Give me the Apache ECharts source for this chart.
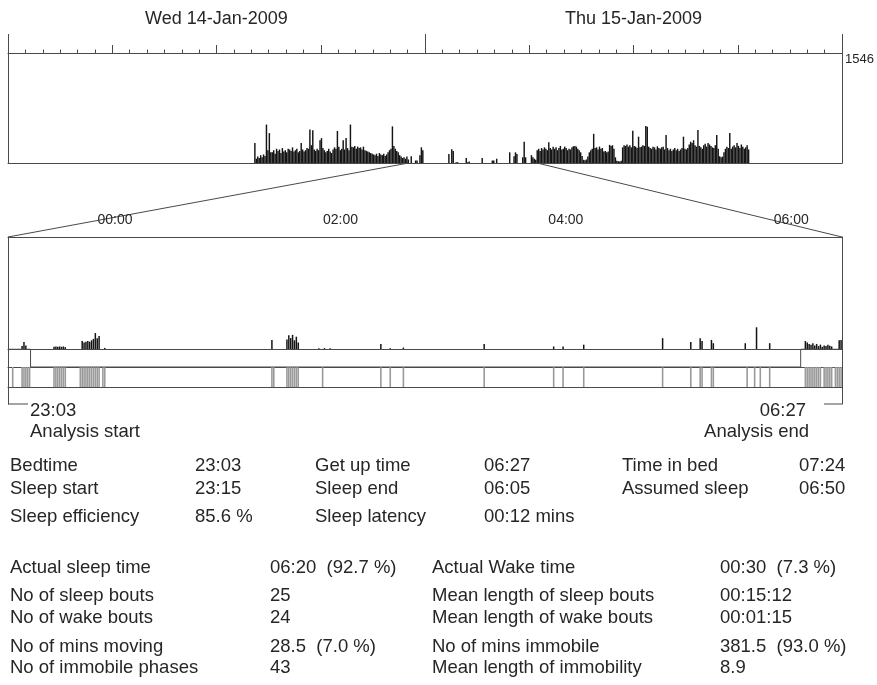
<!DOCTYPE html>
<html><head><meta charset="utf-8">
<script src="https://cdn.jsdelivr.net/npm/echarts@6/dist/echarts.min.js"></script>
<style>html,body{margin:0;padding:0;background:#fff}#c{width:877px;height:685px}</style>
</head><body><div id="c"></div>
<script>
// ---------------- DATA ----------------
const dayLabels = ['Wed 14-Jan-2009', 'Thu 15-Jan-2009'];
const yMax = 1546;
const binMin = 5;                 // overview bin length (minutes)
const wedStart = 850;             // minutes from Wed 00:00 (14:10)
const wedBins = [
  280, 60, 90, 70, 110, 80, 120, 100, 540, 180, 420, 150,
  150, 180, 130, 200, 170, 190, 140, 210, 160, 180, 150, 200,
  190, 170, 220, 160, 180, 200, 150, 170, 280, 190, 160, 180,
  210, 200, 470, 250, 460, 190, 170, 200, 180, 320, 350, 210,
  180, 150, 170, 200, 160, 140, 190, 220, 200, 450, 230, 180,
  200, 320, 190, 350, 210, 180, 540, 230, 220, 240, 200, 230,
  210, 220, 190, 230, 180, 170, 160, 150, 140, 130, 120, 110,
  130, 100, 140, 120, 110, 130, 100, 120, 150, 180, 200, 515,
  240, 200, 170, 150, 110, 90, 70, 80, 60, 90, 50
];
const thuStart = 1825;            // minutes from Wed 00:00 (Thu 06:25)
const thuBins = [
  180, 200, 170, 210, 190, 220, 200, 180, 290, 210, 190, 230,
  200, 220, 180, 210, 240, 190, 200, 230, 210, 180, 200, 190,
  220, 235, 240, 230, 200, 180, 150, 100, 45, 40, 50, 90,
  150, 180, 200, 410, 210, 220, 190, 230, 200, 210, 160, 170,
  150, 160, 255, 240, 250, 200, 80, 30, 25, 20, 30, 220,
  250, 240, 260, 230, 250, 220, 455, 240, 230, 210, 370, 220,
  230, 250, 240, 520, 510, 230, 210, 200, 230, 220, 190, 235,
  210, 200, 220, 230, 190, 395, 210, 180, 200, 170, 190, 210,
  180, 200, 170, 190, 210, 370, 200, 190, 210, 260, 300, 280,
  320, 250, 230, 465, 240, 220, 200, 250, 270, 230, 280, 260,
  240, 220, 210, 250, 395, 200, 95, 80, 90, 150, 200, 230,
  210, 420, 200, 230, 250, 220, 280, 240, 210, 260, 230, 200,
  220, 250, 190
];
const analysisStart = 1383;       // Wed 23:03
const analysisEnd = 1827;         // Thu 06:27
const sleepStart = 1395;          // 23:15
const sleepEnd = 1805;            // 06:05
const zoomTickMinutes = [1440, 1560, 1680, 1800];
const zoomTickLabels = ['00:00', '02:00', '04:00', '06:00'];
// [minutes after analysis start, activity count]
const nightActivity = [
  [7, 40], [8, 95], [9, 50],
  [24, 30], [25, 35], [26, 30], [27, 35], [28, 30], [29, 35], [30, 25],
  [39, 110], [40, 90], [41, 100], [42, 110], [43, 100], [44, 120], [45, 140], [46, 220], [47, 150], [48, 180],
  [51, 15],
  [140, 125],
  [148, 130], [149, 190], [150, 150], [151, 195], [152, 120], [153, 170], [154, 90],
  [165, 12], [168, 12], [171, 12],
  [198, 70], [203, 10], [210, 20], [253, 70], [290, 35], [295, 35], [306, 60],
  [348, 150], [363, 95], [368, 150], [369, 110], [374, 125], [375, 80], [392, 80], [398, 300], [405, 80],
  [424, 110], [425, 90], [426, 70], [427, 60], [428, 80], [429, 50], [430, 70], [431, 40], [432, 60],
  [433, 30], [434, 50], [435, 40], [436, 60], [437, 45], [438, 35],
  [442, 120], [443, 125]
];
// wake epochs: [first minute, last minute] after analysis start
const wakeEpochs = [
  [2, 2], [7, 11], [24, 30], [38, 48], [50, 51], [140, 141], [148, 154], [167, 167],
  [198, 198], [203, 203], [210, 210], [253, 253], [290, 290], [295, 295], [306, 306],
  [348, 348], [363, 363], [368, 369], [374, 375], [393, 393], [397, 397], [400, 400], [405, 405],
  [424, 432], [434, 438], [440, 443]
];
const statsTop = [
  ['Bedtime', '23:03', 'Get up time', '06:27', 'Time in bed', '07:24'],
  ['Sleep start', '23:15', 'Sleep end', '06:05', 'Assumed sleep', '06:50'],
  ['Sleep efficiency', '85.6 %', 'Sleep latency', '00:12 mins', '', '']
];
const statsBottom = [
  ['Actual sleep time', '06:20  (92.7 %)', 'Actual Wake time', '00:30  (7.3 %)'],
  ['No of sleep bouts', '25', 'Mean length of sleep bouts', '00:15:12'],
  ['No of wake bouts', '24', 'Mean length of wake bouts', '00:01:15'],
  ['No of mins moving', '28.5  (7.0 %)', 'No of mins immobile', '381.5  (93.0 %)'],
  ['No of immobile phases', '43', 'Mean length of immobility', '8.9']
];

// ---------------- BUILD ----------------
const FONT = '"Liberation Sans", Arial, sans-serif';
const LINE = '#4a4a4a';
const TXT = '#262626';
const fmtHM = m => { m = ((m % 1440) + 1440) % 1440; return String(Math.floor(m / 60)).padStart(2, '0') + ':' + String(m % 60).padStart(2, '0'); };

const overview = [];
wedBins.forEach((v, i) => overview.push([wedStart + i * binMin + binMin / 2, v]));
for (let m = wedStart + wedBins.length * binMin; m < thuStart; m += binMin) {
  let v = 0;
  nightActivity.forEach(([o, val]) => { const a = analysisStart + o; if (a >= m && a < m + binMin) v = Math.max(v, val); });
  if (v > 0) overview.push([m + binMin / 2, v]);
}
thuBins.forEach((v, j) => overview.push([thuStart + j * binMin + binMin / 2, v]));

const nightData = nightActivity.map(([o, v]) => [analysisStart + o + 0.5, v]);
const wakeData = [];
wakeEpochs.forEach(([s, e]) => { for (let m = s; m <= e; m++) wakeData.push([analysisStart + m + 0.5, 1]); });
const sleepPeriod = [[analysisStart, 1], [sleepStart, 1], [sleepStart, 0], [sleepEnd, 0], [sleepEnd, 1], [analysisEnd, 1]];

const G = { left: 8, width: 834 };
const hidden = { show: false };
const noLine = { show: false, onZero: false };
const lineOnly = { show: true, onZero: false, lineStyle: { color: LINE, width: 1 } };
const baseX = (grid, extra) => Object.assign({
  gridIndex: grid, type: 'value', axisLine: lineOnly, axisTick: hidden, axisLabel: hidden, splitLine: hidden
}, extra);
const baseY = (grid, extra) => Object.assign({
  gridIndex: grid, type: 'value', axisLine: noLine, axisTick: hidden, axisLabel: hidden, splitLine: hidden
}, extra);

const chart = echarts.init(document.getElementById('c'), null, { renderer: 'canvas' });
chart.setOption({
  animation: false,
  backgroundColor: '#fff',
  textStyle: { fontFamily: FONT },
  grid: [
    { left: G.left, width: G.width, top: 53, height: 110, outerBoundsMode: 'none' },   // 0 overview
    { left: G.left, width: G.width, top: 53, height: 110, outerBoundsMode: 'none' },   // 1 overview day labels
    { left: G.left, width: G.width, top: 237, height: 112, outerBoundsMode: 'none' },  // 2 night activity
    { left: G.left, width: G.width, top: 349, height: 18, outerBoundsMode: 'none' },   // 3 sleep period
    { left: G.left, width: G.width, top: 367, height: 20, outerBoundsMode: 'none' },   // 4 sleep/wake band
    { left: G.left, width: G.width, top: 237, height: 167, outerBoundsMode: 'none' }   // 5 frame
  ],
  xAxis: [
    baseX(0, { min: 0, max: 2880, position: 'bottom' }),
    baseX(0, { min: 0, max: 2880, position: 'top', interval: 360,
      axisTick: { show: true, length: 8, lineStyle: { color: LINE } },
      minorTick: { show: true, splitNumber: 6, length: 3.5, lineStyle: { color: LINE } } }),
    { gridIndex: 1, type: 'category', data: dayLabels, position: 'top', boundaryGap: true,
      axisLine: noLine, splitLine: hidden,
      axisTick: { show: true, length: 19, lineStyle: { color: LINE } },
      axisLabel: { show: true, margin: 25, fontSize: 18, color: TXT, fontFamily: FONT } },
    baseX(2, { min: analysisStart, max: analysisEnd, position: 'bottom' }),
    baseX(2, { min: analysisStart, max: analysisEnd, position: 'top',
      axisLabel: { show: true, customValues: zoomTickMinutes, margin: 10, fontSize: 14, color: TXT, fontFamily: FONT,
        formatter: v => zoomTickLabels[zoomTickMinutes.indexOf(v)] } }),
    baseX(3, { min: analysisStart, max: analysisEnd, axisLine: noLine }),
    baseX(4, { min: analysisStart, max: analysisEnd, position: 'top' }),
    baseX(4, { min: analysisStart, max: analysisEnd, position: 'bottom' }),
    baseX(5, { min: analysisStart, max: analysisEnd, axisLine: noLine })
  ],
  yAxis: [
    baseY(0, { min: 0, max: yMax, position: 'left', axisLine: lineOnly }),
    baseY(0, { min: 0, max: yMax, position: 'right', axisLine: lineOnly,
      axisLabel: { show: true, customValues: [yMax], formatter: v => String(v), verticalAlign: 'top',
        margin: 3, fontSize: 13, color: TXT, fontFamily: FONT } }),
    baseY(1, { min: 0, max: 1 }),
    baseY(2, { min: 0, max: yMax }),
    baseY(3, { min: 0, max: 1 }),
    baseY(4, { min: 0, max: 1 }),
    baseY(5, { min: 0, max: 1, position: 'left', axisLine: lineOnly }),
    baseY(5, { min: 0, max: 1, position: 'right', axisLine: lineOnly })
  ],
  series: [
    { type: 'bar', xAxisIndex: 0, yAxisIndex: 0, data: overview, barWidth: 1.45,
      itemStyle: { color: '#141414' }, silent: true },
    { type: 'bar', xAxisIndex: 3, yAxisIndex: 3, data: nightData, barWidth: 1.5,
      itemStyle: { color: '#141414' }, silent: true },
    { type: 'line', xAxisIndex: 5, yAxisIndex: 4, data: sleepPeriod, showSymbol: false,
      lineStyle: { color: LINE, width: 1 }, silent: true },
    { type: 'bar', xAxisIndex: 6, yAxisIndex: 5, data: wakeData, barWidth: 1.6,
      itemStyle: { color: '#9a9a9a' }, silent: true }
  ]
});

// -------- connectors, brackets and text (positions from the axes) --------
const px = (axis, v) => chart.convertToPixel({ xAxisIndex: axis }, v);
const py = (axis, v) => chart.convertToPixel({ yAxisIndex: axis }, v);
const ovBottom = py(0, 0);
const zTop = py(3, yMax);
const frameBottom = py(6, 0);
const zl = px(3, analysisStart), zr = px(3, analysisEnd);
const lineEl = (x1, y1, x2, y2) => ({ type: 'line', silent: true,
  shape: { x1, y1, x2, y2 }, style: { stroke: LINE, lineWidth: 1 } });
const textEl = (text, x, y, align, size) => ({ type: 'text', silent: true,
  style: { text, x, y, align: align || 'left', verticalAlign: 'middle', fill: TXT, font: (size || 18.5) + 'px ' + FONT } });

const graphics = [
  lineEl(px(0, analysisStart), ovBottom, zl, zTop),
  lineEl(px(0, analysisEnd), ovBottom, zr, zTop),
  lineEl(zl, frameBottom, zl + 20, frameBottom),
  lineEl(zr - 18, frameBottom, zr, frameBottom),
  textEl(fmtHM(analysisStart), zl + 22, frameBottom + 7),
  textEl('Analysis start', zl + 22, frameBottom + 28),
  textEl(fmtHM(analysisEnd), zr - 36, frameBottom + 7, 'right'),
  textEl('Analysis end', zr - 33, frameBottom + 28, 'right')
];
const topCols = [10, 195, 315, 484, 622, 799];
const topRowsY = [466, 489, 517];
statsTop.forEach((row, r) => row.forEach((t, c) => { if (t) graphics.push(textEl(t, topCols[c], topRowsY[r])); }));
const botCols = [10, 270, 432, 720];
const botRowsY = [568, 596, 618, 647, 668];
statsBottom.forEach((row, r) => row.forEach((t, c) => { if (t) graphics.push(textEl(t, botCols[c], botRowsY[r])); }));
chart.setOption({ graphic: graphics });
</script>
</body></html>
